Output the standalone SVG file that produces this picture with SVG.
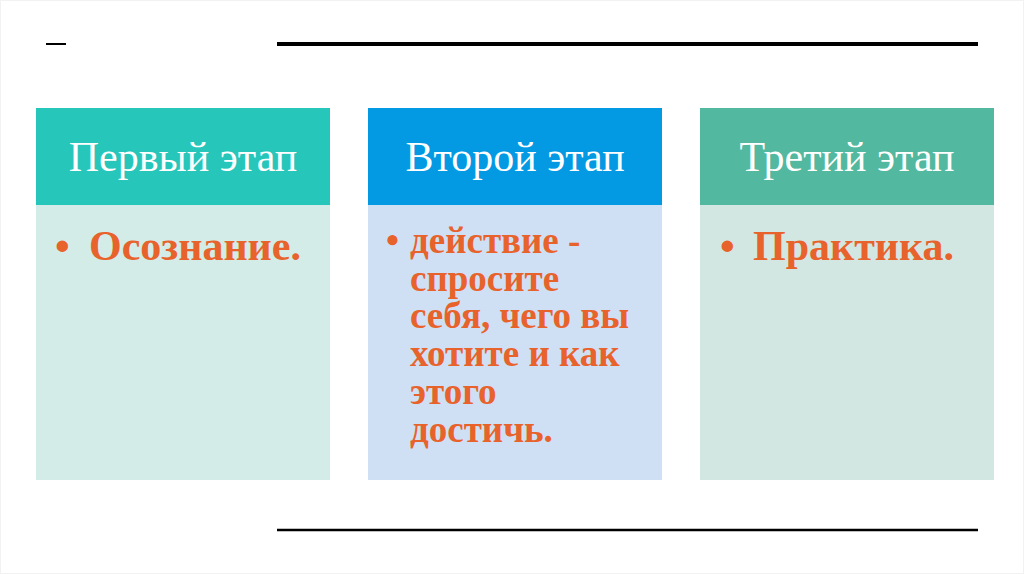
<svg xmlns="http://www.w3.org/2000/svg" width="1024" height="574" viewBox="0 0 1024 574">
<style>
.hd{font-family:"Liberation Serif","Times New Roman",serif;font-size:42px;fill:#FFFFFF;text-anchor:middle}
.bd{font-family:"Liberation Serif","Times New Roman",serif;font-size:42px;font-weight:bold;fill:#E8622C}
.bd2{font-family:"Liberation Serif","Times New Roman",serif;font-size:37px;font-weight:bold;fill:#E8622C}
</style>
<rect width="1024" height="574" fill="#FFFFFF"/>
<rect x="0.5" y="0.5" width="1023" height="573" fill="none" stroke="#F2F2F2"/>
<line x1="46" y1="44" x2="66" y2="44" stroke="#000" stroke-width="2"/>
<line x1="277" y1="44" x2="978" y2="44" stroke="#000" stroke-width="4"/>
<line x1="277" y1="530" x2="978" y2="530" stroke="#000" stroke-width="2.5"/>
<g id="stage1">
<rect x="36" y="108" width="294" height="97" fill="#27C6BA"/>
<rect x="36" y="205" width="294" height="275" fill="#D3ECE7"/>
<text class="hd" x="183" y="171">Первый этап</text>
<text class="bd" x="55" y="260">•</text>
<text class="bd" x="89" y="260">Осознание.</text>
</g>
<g id="stage2">
<rect x="368" y="108" width="294" height="97" fill="#0399E3"/>
<rect x="368" y="205" width="294" height="275" fill="#CFE0F5"/>
<text class="hd" x="515" y="171">Второй этап</text>
<text class="bd2" x="386" y="253">•</text>
<text class="bd2" x="410" y="253">действие -</text>
<text class="bd2" x="410" y="291">спросите</text>
<text class="bd2" x="410" y="328">себя, чего вы</text>
<text class="bd2" x="410" y="366">хотите и как</text>
<text class="bd2" x="410" y="404">этого</text>
<text class="bd2" x="410" y="442">достичь.</text>
</g>
<g id="stage3">
<rect x="700" y="108" width="294" height="97" fill="#52B8A0"/>
<rect x="700" y="205" width="294" height="275" fill="#D3E7E2"/>
<text class="hd" x="847" y="171">Третий этап</text>
<text class="bd" x="720" y="260">•</text>
<text class="bd" x="753" y="260">Практика.</text>
</g>
<g id="connectors"/>
</svg>
